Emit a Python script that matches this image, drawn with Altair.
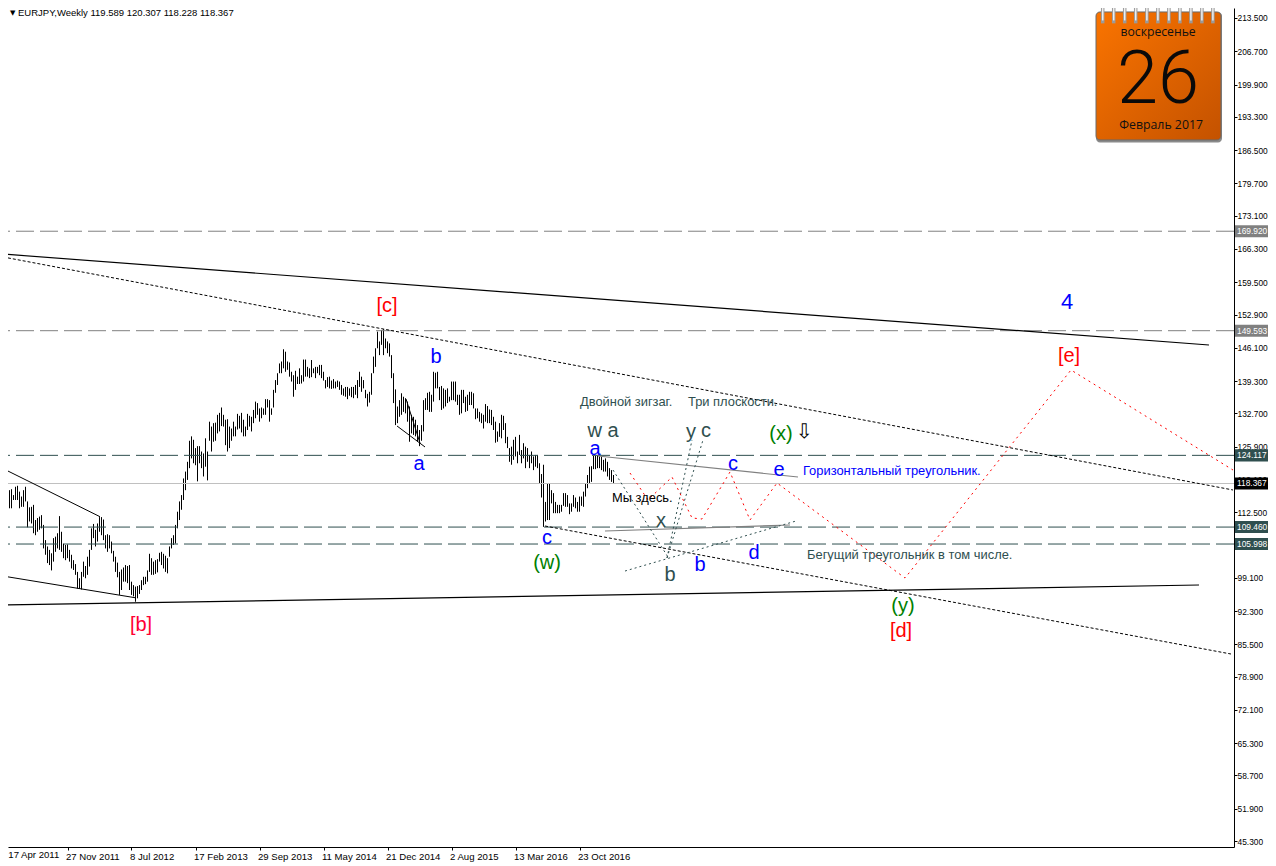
import altair as alt
import pandas as pd

highs = [120.4,120.8,121.1,117.0,117.2,116.0,117.7,117.9,116.7,115.7,117.0,117.7,114.7,113.5,113.6,114.0,110.9,111.3,111.6,111.9,
109.9,106.8,105.5,104.8,104.1,107.2,107.5,108.2,111.7,108.5,106.1,105.8,105.9,104.8,103.8,102.7,101.9,100.3,99.0,100.3,
102.4,101.5,103.4,104.8,109.2,110.1,108.9,110.2,111.5,111.5,111.0,107.8,108.0,107.8,106.5,104.6,103.4,102.2,100.3,100.8,
101.2,101.7,101.5,101.7,98.3,97.6,97.3,97.4,97.6,98.6,99.3,99.3,100.6,104.0,103.1,102.4,102.7,102.9,104.2,104.4,
104.0,103.6,103.1,105.5,107.2,107.8,109.9,112.6,114.7,116.0,119.4,120.8,122.8,127.1,128.0,127.3,125.6,126.0,126.0,124.9,
124.5,127.6,124.9,131.0,130.0,130.7,130.8,132.4,132.8,133.9,132.4,131.4,131.5,130.0,129.6,131.0,130.0,132.6,132.2,132.8,
131.4,130.0,132.6,132.2,132.0,133.4,135.1,134.8,133.7,133.9,133.7,135.6,135.6,135.4,133.7,137.5,139.5,140.9,142.9,143.3,
145.8,145.3,143.3,143.1,141.2,140.5,141.4,140.2,141.9,140.5,143.7,143.7,142.2,141.9,143.6,141.9,142.2,142.2,142.6,142.6,
141.2,139.5,140.1,140.2,139.4,139.7,139.2,139.4,139.2,138.5,137.8,138.1,138.1,137.8,138.1,138.1,138.5,139.5,141.2,140.2,
139.5,137.5,136.7,137.1,140.9,144.3,146.0,149.4,147.4,149.7,149.9,148.0,147.4,147.0,144.6,140.9,137.6,134.1,135.4,136.8,
136.1,135.8,135.1,134.1,132.4,132.0,131.4,130.3,129.3,130.3,135.4,135.8,136.9,137.1,136.5,141.2,141.0,141.2,138.1,138.3,
137.8,137.5,137.8,136.1,139.2,139.2,139.2,136.5,136.5,137.5,137.5,136.1,136.5,137.1,137.1,136.8,133.7,133.7,133.0,132.7,
132.4,134.6,134.2,133.5,133.4,132.0,131.0,129.0,130.7,132.4,132.2,130.7,127.9,125.6,125.9,127.3,127.9,124.9,128.3,125.2,
126.6,125.9,125.6,124.2,124.9,123.9,124.2,124.2,122.5,120.3,122.2,114.6,118.4,118.4,117.0,116.4,114.6,114.0,114.0,114.0,
116.4,116.4,116.0,114.3,114.3,116.0,115.5,114.6,115.7,115.7,116.7,118.4,120.1,121.8,121.9,124.0,124.0,124.0,123.9,123.9,
123.2,123.5,122.8,121.5,121.1,120.1]

lows = [116.4,118.4,115.0,113.3,113.3,115.0,115.0,115.0,113.3,113.6,113.6,114.7,109.4,110.6,110.2,108.2,107.8,108.5,108.9,109.2,
105.1,103.8,102.1,101.7,100.6,102.4,104.4,105.1,104.8,104.4,103.1,102.7,103.1,102.4,101.0,100.7,99.7,96.9,96.9,96.7,
99.3,99.0,99.7,101.4,104.8,107.2,105.5,106.5,108.5,107.8,106.8,105.1,104.4,105.1,104.1,102.4,100.3,99.2,95.6,96.6,
98.3,98.3,98.0,96.6,95.6,95.3,94.2,94.9,95.8,96.6,97.6,97.8,98.3,100.3,99.7,99.7,99.9,100.2,102.4,101.7,
101.0,100.3,100.0,103.4,105.1,105.8,106.1,109.2,110.9,113.0,115.0,117.0,119.1,121.5,123.5,122.5,122.1,118.8,122.5,121.5,
119.8,121.8,119.0,127.1,124.9,126.9,127.1,128.6,129.0,130.1,130.0,126.2,124.9,125.6,127.1,128.0,128.0,129.4,129.6,128.8,
128.0,128.0,129.3,130.0,129.0,130.7,131.7,132.4,131.0,131.7,132.4,132.4,133.9,131.0,132.4,133.9,136.9,138.5,140.9,140.9,
141.9,141.2,141.6,140.2,139.2,136.1,137.5,138.7,138.7,138.8,139.2,140.2,140.2,139.9,140.1,140.9,139.9,140.9,140.5,139.9,
139.4,137.8,138.1,137.8,137.7,137.8,137.8,138.1,137.5,136.5,136.3,136.1,135.6,136.3,136.0,135.8,136.5,135.8,138.1,137.1,
137.8,135.8,134.1,134.9,136.5,140.9,142.2,146.0,144.6,146.7,144.6,146.0,145.0,144.3,139.9,134.8,130.3,130.7,132.0,132.4,
133.0,132.7,131.0,126.9,128.6,128.3,128.0,126.9,126.0,127.1,129.0,133.4,133.4,133.0,133.0,135.1,137.8,137.8,135.4,133.4,
133.7,134.1,134.8,135.1,135.4,135.4,135.1,134.4,132.4,132.7,134.8,133.0,133.2,134.4,134.4,133.7,131.5,131.7,131.0,130.7,
129.6,131.0,130.7,130.7,130.3,129.3,126.7,126.9,127.9,127.6,129.3,126.6,125.6,122.8,122.2,123.2,123.9,122.5,124.2,122.5,
123.5,121.5,122.8,121.5,122.5,121.1,121.8,121.5,118.4,115.5,109.5,110.6,110.9,110.9,114.3,112.3,112.3,112.3,112.3,112.6,
113.8,113.6,113.6,112.1,112.6,113.6,113.3,112.6,112.6,113.8,113.6,115.7,117.4,118.4,118.7,121.3,121.3,121.5,121.5,121.1,
120.8,120.8,119.8,119.1,118.7,118.3]

bars = pd.DataFrame({"i": list(range(len(highs))), "high": highs, "low": lows})

tick_prices = [213.5,206.7,199.9,193.3,186.5,179.7,173.1,166.3,159.5,152.9,146.1,139.3,132.7,125.9,119.1,112.5,105.7,99.1,92.3,85.5,78.9,72.1,65.3,58.7,51.9,45.3]
date_ticks = [32,64,96,128,160,192,224,256,288]
date_labels = ["17 Apr 2011","27 Nov 2011","8 Jul 2012","17 Feb 2013","29 Sep 2013","11 May 2014","21 Dec 2014","2 Aug 2015","13 Mar 2016","23 Oct 2016"]

level_values = [169.92,149.593,124.117,109.46,105.998]
level_colors = ["#808080","#808080","#2F4F4F","#2F4F4F","#2F4F4F"]
close_price = 118.367

tag_values = [169.92,149.593,124.117,118.367,109.46,105.998]
tag_colors = ["#808080","#808080","#2F4F4F","#000000","#2F4F4F","#2F4F4F"]

solid = [(-0.75,165.27,602.75,146.67),(-0.75,93.53,597.75,97.62)]
thin = [(1.9,120.98,48.25,111.58),(-0.4,99.46,65.75,95.03),(201.25,135.64,208.25,126.64),(196.75,130.12,210.75,125.83)]
grey = [(297.25,123.99,397.25,119.69),(300.75,108.66,393.25,109.88)]
dotted = [(-0.25,164.66,614.75,117.04),(270.75,109.68,613.75,83.52)]
slate = [(304.75,121.12,332.25,103.34),(331.75,103.14,344.25,127.26),(331.75,103.14,349.75,127.26),(310.75,100.48,396.25,110.70)]

red_x = [313.25,322.25,334.25,344.25,349.25,363.25,373.25,386.75,450.75,533.75,614.75]
red_y = [120.51,115.0,119.69,111.32,111.11,120.72,110.91,118.47,99.05,141.56,121.12]

big = [("[c]",191.75,154.64,"#FF0000",20),("[b]",68.75,89.45,"#FF0033",20),("b",216.25,144.22,"#0000FF",20),
("a",207.75,122.35,"#0000FF",20),("c",271.75,107.23,"#0000FF",20),("(w)",271.75,102.12,"#008000",20),
("w a",299.75,129.10,"#2F4F4F",20),("a",295.75,125.42,"#0000FF",20),("y",343.75,128.89,"#2F4F4F",20),
("c",351.25,129.10,"#2F4F4F",20),("(x)",388.75,128.48,"#008000",20),("c",364.75,122.35,"#0000FF",20),
("e",387.75,121.12,"#0000FF",20),("x",328.75,110.70,"#2F4F4F",20),("b",333.25,99.67,"#2F4F4F",20),
("b",348.25,101.71,"#0000FF",20),("d",375.25,104.16,"#0000FF",20),("4",531.75,155.46,"#0000FF",22),
("[e]",532.75,144.42,"#FF0000",20),("(y)",449.75,93.33,"#008000",20),("[d]",448.75,88.22,"#FF0000",20)]
notes = [("Горизонтальный треугольник.",399.75,120.92,"#0000FF"),("Двойной зигзаг.",288.25,135.02,"#2F4F4F"),
("Три плоскости.",342.25,135.02,"#2F4F4F"),("Мы здесь.",304.25,115.40,"#000000"),
("Бегущий треугольник в том числе.",401.75,103.75,"#2F4F4F")]
header_text = "EURJPY,Weekly  119.589 120.307 118.228 118.367"

ring_x = [549.6,555.1,560.6,566.1,571.7,577.2,582.7,588.2,593.7,599.2,604.7]
cal_box = dict(x=546.25, x2=608.75, y=214.73, y2=188.57)

xs = alt.Scale(domain=[2.25,615.25], nice=False, zero=False)
ys = alt.Scale(domain=[44.08,215.54], nice=False, zero=False)
FONT = "Liberation Sans"
AX = 8.4
AXX = 9.6

def X(f="x"):
    return alt.X(f"{f}:Q", scale=xs, axis=None)
def Y(f="y"):
    return alt.Y(f"{f}:Q", scale=ys, axis=None)

def seg_layer(rows, color, width, dash=None):
    df = pd.DataFrame(rows, columns=["x","y","x2","y2"])
    kw = dict(color=color, strokeWidth=width)
    if dash:
        kw["strokeDash"] = dash
    return alt.Chart(df).mark_rule(**kw).encode(X(), Y(), x2="x2:Q", y2="y2:Q")

labels_expr = "[" + ",".join(f"'{d}'" for d in date_labels) + "][datum.value/32]"

bar_layer = alt.Chart(bars).mark_rule(color="#000000", strokeWidth=1).encode(
    x=alt.X("i:Q", scale=xs, title=None, axis=alt.Axis(values=date_ticks, labelExpr=labels_expr, grid=False,
        labelAlign="left", labelFont=FONT, labelFontSize=AXX, labelColor="#000000", labelPadding=1, labelOffset=-2, tickSize=3,
        tickColor="#000000", domainColor="#000000", labelOverlap=False, labelBound=False, labelFlush=False)),
    y=alt.Y("high:Q", scale=ys, title=None, axis=alt.Axis(orient="right", values=tick_prices, format=".3f", grid=False,
        labelFont=FONT, labelFontSize=AX, labelColor="#000000", labelPadding=0, tickSize=3, tickColor="#000000",
        domainColor="#000000", labelOverlap=False, labelBound=False, labelFlush=False)),
    y2="low:Q")

first_date = alt.Chart(pd.DataFrame({"t":[date_labels[0]],"x":[2.4],"y":[42.44]})).mark_text(font=FONT, fontSize=AXX, align="left", baseline="middle", color="#000000").encode(X(), Y(), text="t:N")

levels = alt.Chart(pd.DataFrame({"y": level_values, "c": level_colors})).mark_rule(strokeDash=[18,6], strokeWidth=1).encode(
    Y(), color=alt.Color("c:N", scale=None))
close_line = alt.Chart(pd.DataFrame({"y":[close_price]})).mark_rule(color="#C0C0C0", strokeWidth=1).encode(Y())

red = alt.Chart(pd.DataFrame({"x": red_x, "y": red_y, "o": list(range(len(red_x)))})).mark_line(
    color="#FF0000", strokeWidth=1, strokeDash=[2,4]).encode(X(), Y(), order="o:Q")

big_df = pd.DataFrame(big, columns=["t","x","y","c","s"])
big_text = alt.Chart(big_df).mark_text(font=FONT, align="center", baseline="middle").encode(
    X(), Y(), text="t:N", color=alt.Color("c:N", scale=None), size=alt.Size("s:Q", scale=None))
note_df = pd.DataFrame(notes, columns=["t","x","y","c"])
note_text = alt.Chart(note_df).mark_text(font=FONT, align="left", baseline="middle", fontSize=12.9).encode(
    X(), Y(), text="t:N", color=alt.Color("c:N", scale=None))
arrow = alt.Chart(pd.DataFrame({"t":["⇩"],"x":[400.25],"y":[128.89]})).mark_text(font="DejaVu Sans", fontSize=20, color="#000000", baseline="middle").encode(X(), Y(), text="t:N")
header = alt.Chart(pd.DataFrame({"t":[header_text],"x":[7.25],"y":[214.5]})).mark_text(font=FONT, fontSize=9.5, align="left", baseline="middle", color="#000000").encode(X(), Y(), text="t:N")
header_mark = alt.Chart(pd.DataFrame({"t":["▼"],"x":[3.25],"y":[214.5]})).mark_text(font="DejaVu Sans", fontSize=7, align="left", baseline="middle", color="#000000").encode(X(), Y(), text="t:N")

tag_df = pd.DataFrame({"y": tag_values, "c": tag_colors})
tag_df["y0"] = tag_df.y - 1.23
tag_df["y1"] = tag_df.y + 1.23
tag_df["x0"] = 615.75
tag_df["x1"] = 632.25
tag_df["tx"] = 616.75
tag_df["t"] = tag_df.y.map(lambda v: f"{v:.3f}")
tags = alt.Chart(tag_df).mark_rect().encode(alt.X("x0:Q", scale=xs, axis=None), x2="x1:Q", y=alt.Y("y0:Q", scale=ys, axis=None), y2="y1:Q", color=alt.Color("c:N", scale=None))
tag_text = alt.Chart(tag_df).mark_text(font=FONT, fontSize=AX, align="left", baseline="middle", color="#FFFFFF").encode(alt.X("tx:Q", scale=xs, axis=None), Y(), text="t:N")

shadow = alt.Chart(pd.DataFrame([{**cal_box, "y2": cal_box["y2"]-0.5, "x2": cal_box["x2"]+0.5}])).mark_rect(color="#8A8A8A", cornerRadius=4).encode(X(), x2="x2:Q", y=Y(), y2="y2:Q")
cal = alt.Chart(pd.DataFrame([cal_box])).mark_rect(
    fill=alt.Gradient(gradient="linear", x1=0, y1=0, x2=1, y2=1, stops=[alt.GradientStop(offset=0, color="#FA7400"), alt.GradientStop(offset=1, color="#C45200")]),
    stroke="#6B6B6B", strokeWidth=1, cornerRadius=4).encode(X(), x2="x2:Q", y=Y(), y2="y2:Q")
rings = alt.Chart(pd.DataFrame({"x": ring_x, "y": [216.6]*len(ring_x), "y2": [212.4]*len(ring_x)})).mark_rule(color="#9A9A9A", strokeWidth=3.5).encode(X(), Y(), y2="y2:Q")
rings2 = alt.Chart(pd.DataFrame({"x": ring_x, "y": [216.6]*len(ring_x), "y2": [213.0]*len(ring_x)})).mark_rule(color="#F0F0F0", strokeWidth=1.5).encode(X(), Y(), y2="y2:Q")
cal_df = pd.DataFrame([("воскресенье",577.3,210.6,12.2),("Февраль 2017",578.8,191.6,12.3)], columns=["t","x","y","s"])
cal_text = alt.Chart(cal_df).mark_text(font="Open Sans", align="center", baseline="middle", color="#111111").encode(X(), Y(), text="t:N", size=alt.Size("s:Q", scale=None))
cal_day = alt.Chart(pd.DataFrame({"t":["26"],"x":[577.3],"y":[200.7]})).mark_text(font="Roboto", fontWeight=300, fontSize=74, align="center", baseline="middle", color="#0A0A0A").encode(X(), Y(), text="t:N")

chart = alt.layer(
    bar_layer, first_date, levels, close_line,
    seg_layer(solid,"#000000",1.2), seg_layer(thin,"#000000",1),
    seg_layer(dotted,"#000000",1,[3,2]), seg_layer(grey,"#808080",1.2), seg_layer(slate,"#2F4F4F",1,[2,3]),
    red, big_text, note_text, arrow, header, header_mark, tags, tag_text, shadow, cal, rings, rings2, cal_text, cal_day
).resolve_axis(x="independent", y="independent").properties(width=1226, height=839, autosize=alt.AutoSizeParams(type="none"),
    padding={"left":0,"top":0,"right":34,"bottom":19}, background="#FFFFFF"
).configure_view(stroke=None)

chart.save("out.html", embed_options={"renderer": "svg", "actions": False})
